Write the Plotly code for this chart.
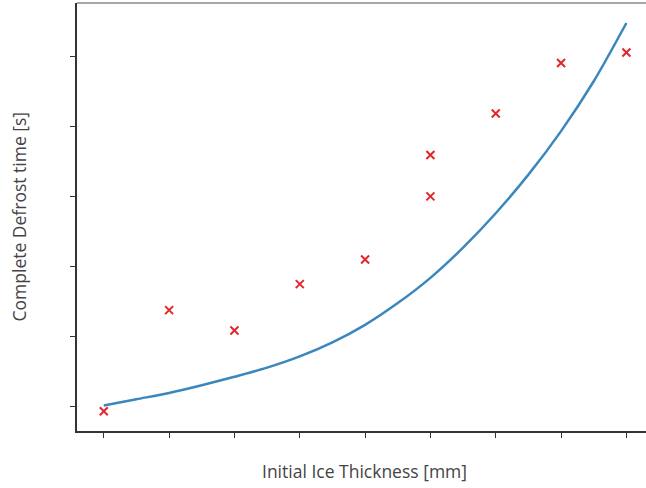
import plotly.graph_objects as go

# Measured points (x in tick units, y in tick units; the reference has no tick labels)
meas_x = [0, 1, 2, 3, 4, 5, 5, 6, 7, 8]
meas_y = [-0.06, 1.38, 1.09, 1.75, 2.10, 3.00, 3.59, 4.18, 4.90, 5.05]

# Model curve
model_x = [0, 0.5, 1.0, 1.5, 2.0, 2.5, 3.0, 3.5, 4.0, 4.5, 5.0, 5.5, 6.0, 6.5, 7.0, 7.5, 8.0]
model_y = [0.02, 0.11, 0.20, 0.31, 0.43, 0.56, 0.72, 0.92, 1.17, 1.48, 1.84, 2.27, 2.76, 3.31, 3.93, 4.64, 5.47]

x_ticks = [0, 1, 2, 3, 4, 5, 6, 7, 8]
y_ticks = [0, 1, 2, 3, 4, 5]

x_title = "Initial Ice Thickness [mm]"
y_title = "Complete Defrost time [s]"

W, H = 646, 488
ML, MR, MT, MB = 77, 0, 3, 57
pw, ph = W - ML - MR, H - MT - MB

fig = go.Figure()
fig.add_trace(go.Scatter(x=model_x, y=model_y, mode="lines",
                         line=dict(color="#3a87bd", width=2.5, shape="spline", smoothing=0.8),
                         showlegend=False, hoverinfo="skip"))
fig.add_trace(go.Scatter(x=meas_x, y=meas_y, mode="markers",
                         marker=dict(symbol="x-thin", size=8,
                                     line=dict(color="#e3262b", width=2)),
                         showlegend=False))

axis_common = dict(showgrid=False, zeroline=False, showticklabels=False,
                   ticks="outside", ticklen=5, tickwidth=1.2, tickcolor="#333",
                   showline=True, linecolor="#333", linewidth=1.5)

fig.update_xaxes(range=[-0.41, 8.30], tickvals=x_ticks, **axis_common)
fig.update_yaxes(range=[-0.342, 5.755], tickvals=y_ticks, **axis_common)

# top spine only (right spine lies outside the canvas)
fig.add_shape(type="line", xref="paper", yref="paper", x0=0, x1=1, y0=1, y1=1,
              line=dict(color="#8a8a8a", width=1.5))

fig.add_annotation(text=x_title, xref="paper", yref="paper",
                   x=(364.5 - ML) / pw, y=(H - MB - 470.7) / ph,
                   xanchor="center", yanchor="middle", showarrow=False,
                   font=dict(family="Open Sans", size=17.5, color="#444"))
fig.add_annotation(text=y_title, xref="paper", yref="paper",
                   x=(18.5 - ML) / pw, y=(H - MB - 217) / ph, textangle=-90,
                   xanchor="center", yanchor="middle", showarrow=False,
                   font=dict(family="Open Sans", size=17.5, color="#444"))

fig.update_layout(width=W, height=H, margin=dict(l=ML, r=MR, t=MT, b=MB),
                  paper_bgcolor="white", plot_bgcolor="white")

fig.write_html("out.html", config={"displayModeBar": False},
               post_script="document.body.style.margin='0';document.body.style.overflow='hidden';")
